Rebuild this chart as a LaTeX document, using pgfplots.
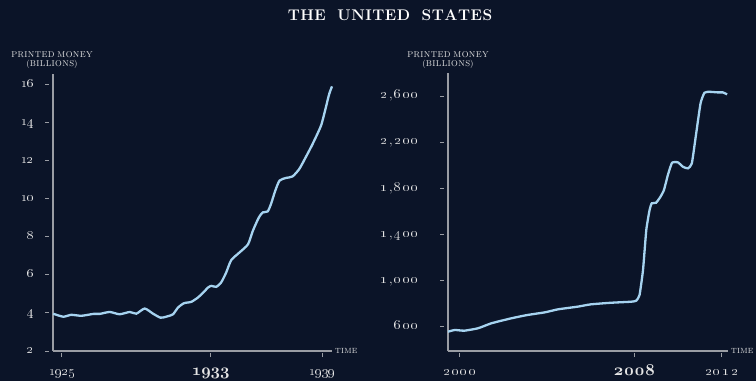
\RequirePackage{fix-cm}
\documentclass[border=0pt]{standalone}
\usepackage{pgfplots}
\pgfplotsset{compat=1.18}
\definecolor{bg}{HTML}{0B1428}
\definecolor{curve}{HTML}{A6D3F0}
\definecolor{axgray}{HTML}{9A9DA4}
\definecolor{txt}{HTML}{E6E6E6}
\newcommand{\osf}[1]{\oldstylenums{#1}}
\newcommand{\osfb}[1]{{\fontsize{16.5}{17}\fontencoding{OML}\fontfamily{cmm}\fontseries{b}\fontshape{it}\selectfont #1}}
% letter-spaced old-style digits for the right panel
\newcommand{\ld}[1]{\osf{#1}\kern2bp}
\newcommand{\lc}{,\kern2bp}
\pgfplotsset{
  money/.style={
    scale only axis,
    axis lines*=left,
    axis line style={axgray, line width=1.3bp, -},
    tick align=outside,
    major tick length=4bp,
    every tick/.style={axgray, line width=1bp},
    ytick style={xshift=-4bp},
    xtick style={yshift=-2bp},
    yticklabel style={anchor=base east, text=txt, font=\fontsize{12.5}{12}\selectfont, xshift=-12bp, yshift=-2.6bp},
    xticklabel style={anchor=base, text=txt, font=\fontsize{13}{12}\selectfont, yshift=-20bp},
    clip=false,
  }
}
\begin{document}
\begin{tikzpicture}
\fill[bg] (0,0) rectangle (756bp,381bp);
\node[text=white, font=\bfseries\fontsize{15.5}{18}\selectfont] at (390bp,366bp) {T\kern0.5bp H\kern0.5bp E\ \ U\kern0.5bp N\kern0.5bp I\kern0.5bp T\kern0.5bp E\kern0.5bp D\ \ S\kern0.5bp T\kern0.5bp A\kern0.5bp T\kern0.5bp E\kern0.5bp S};
\begin{axis}[money,
  at={(53bp,30bp)}, anchor=south west,
  width=279bp, height=277bp,
  xmin=1924.52, xmax=1939.52,
  ymin=2, ymax=16.55,
  ytick={2,4,6,8,10,12,14,16},
  yticklabels={\osf{2},\osf{4},\osf{6},\osf{8},\osf{10},\osf{12},\osf{14},\osf{16}},
  xtick={1925,1933,1939},
  xticklabels={\osf{1925},\osfb{1933},\osf{1939}},
]
\addplot[curve, line width=2.3bp, smooth, tension=0.4] coordinates {
(1924.53,3.96) (1925.07,3.80) (1925.5,3.90) (1926.05,3.85) (1926.7,3.95)
(1927.04,3.95) (1927.57,4.05) (1928.1,3.93) (1928.65,4.05) (1929.0,3.96)
(1929.45,4.23) (1929.9,3.96) (1930.3,3.75) (1930.6,3.80) (1930.97,3.93)
(1931.24,4.28) (1931.56,4.51) (1931.95,4.58) (1932.3,4.80) (1932.6,5.07)
(1932.85,5.33) (1933.03,5.42) (1933.3,5.37) (1933.56,5.60) (1933.83,6.12)
(1934.1,6.77) (1934.54,7.17) (1935.0,7.60) (1935.26,8.30) (1935.58,9.00)
(1935.8,9.28) (1936.06,9.33) (1936.24,9.72) (1936.47,10.42) (1936.7,10.95)
(1937.05,11.09) (1937.4,11.17) (1937.76,11.56) (1938.12,12.20) (1938.48,12.88)
(1938.93,13.84) (1939.19,14.80) (1939.37,15.50) (1939.52,15.90)
};
\end{axis}
\begin{axis}[money,
  at={(448bp,30bp)}, anchor=south west,
  width=280bp, height=278bp,
  xmin=1999.45, xmax=2012.3,
  ymin=392, ymax=2800,
  yticklabel style={font=\fontsize{13.5}{12}\selectfont, xshift=-10bp},
  xticklabel style={font=\fontsize{13.5}{12}\selectfont},
  ytick={600,1000,1400,1800,2200,2600},
  yticklabels={{\ld6\ld0\osf{0}},{\ld1\lc\ld0\ld0\osf{0}},{\ld1\lc\ld4\ld0\osf{0}},{\ld1\lc\ld8\ld0\osf{0}},{\ld2\lc\ld2\ld0\osf{0}},{\ld2\lc\ld6\ld0\osf{0}}},
  xtick={2000,2008,2012},
  xticklabels={{\ld2\ld0\ld0\osf{0}},\osfb{2\kern1bp0\kern1bp0\kern1bp8},{\ld2\ld0\ld1\osf{2}}},
]
\addplot[curve, line width=2.3bp, smooth, tension=0.3] coordinates {
(1999.45,559) (1999.76,574) (2000.2,568) (2000.83,589) (2001.44,632)
(2002.35,675) (2003.1,704) (2003.9,727) (2004.5,753) (2005.4,776)
(2006.0,796) (2006.94,810) (2007.86,819) (2008.09,828) (2008.24,877)
(2008.4,1094) (2008.55,1440) (2008.7,1613) (2008.8,1671) (2009.0,1676)
(2009.2,1728) (2009.36,1786) (2009.54,1916) (2009.73,2022) (2010.0,2026)
(2010.23,1988) (2010.46,1974) (2010.64,2017) (2010.84,2277) (2011.04,2537)
(2011.22,2629) (2011.45,2637) (2011.83,2632) (2012.06,2632) (2012.26,2615)
};
\end{axis}
% axis titles
\node[text=txt, font=\fontsize{8.5}{9.5}\selectfont, align=center] at (52bp,321bp) {P\kern0.4bp R\kern0.4bp I\kern0.4bp N\kern0.4bp T\kern0.4bp E\kern0.4bp D\ M\kern0.4bp O\kern0.4bp N\kern0.4bp E\kern0.4bp Y\\(B\kern0.4bp I\kern0.4bp L\kern0.4bp L\kern0.4bp I\kern0.4bp O\kern0.4bp N\kern0.4bp S)};
\node[text=txt, font=\fontsize{8.5}{9.5}\selectfont, align=center] at (448bp,321bp) {P\kern0.4bp R\kern0.4bp I\kern0.4bp N\kern0.4bp T\kern0.4bp E\kern0.4bp D\ M\kern0.4bp O\kern0.4bp N\kern0.4bp E\kern0.4bp Y\\(B\kern0.4bp I\kern0.4bp L\kern0.4bp L\kern0.4bp I\kern0.4bp O\kern0.4bp N\kern0.4bp S)};
\node[text=txt, font=\fontsize{7.5}{9}\selectfont, anchor=west, inner sep=1bp] at (334bp,30.5bp) {T\kern0.3bp I\kern0.3bp M\kern0.3bp E};
\node[text=txt, font=\fontsize{7.5}{9}\selectfont, anchor=west, inner sep=1bp] at (730bp,30.5bp) {T\kern0.3bp I\kern0.3bp M\kern0.3bp E};
\pgfresetboundingbox
\path (0,0) rectangle (756bp,381bp);
\end{tikzpicture}
\end{document}
